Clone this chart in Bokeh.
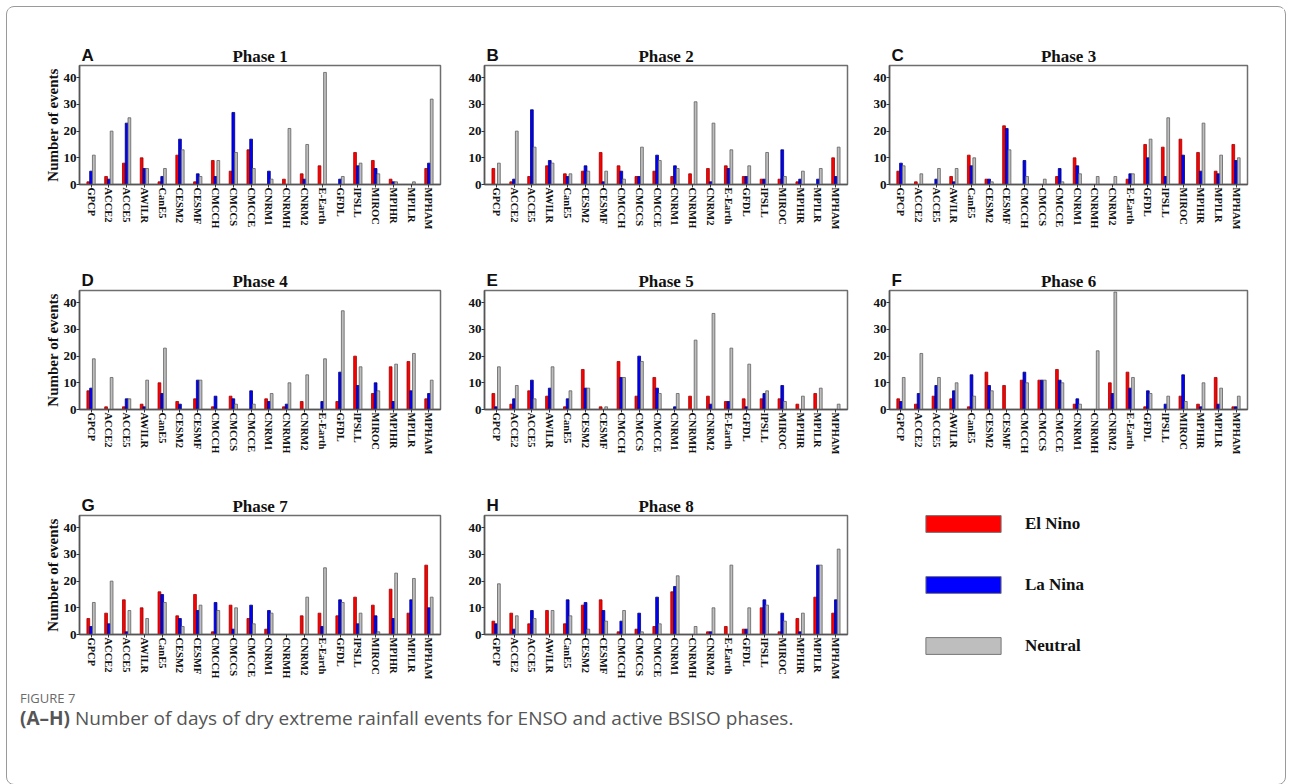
from bokeh.plotting import figure
from bokeh.layouts import row, column
from bokeh.models import Range1d, FixedTicker, Legend, LegendItem, Div, ColumnDataSource, Title
from bokeh.transform import dodge
from bokeh.embed import file_html
from bokeh.resources import INLINE

MODELS = ["GPCP", "ACCE2", "ACCE5", "AWILR", "CanE5", "CESM2", "CESMF", "CMCCH", "CMCCS", "CMCCE",
          "CNRM1", "CNRMH", "CNRM2", "E-Earth", "GFDL", "IPSLL", "MIROC", "MPIHR", "MPILR", "MPHAM"]

P1_EL = [1, 3, 8, 10, 1, 11, 1, 9, 5, 13, 0, 2, 4, 7, 0, 12, 9, 2, 0, 6]
P1_LA = [5, 2, 23, 6, 3, 17, 4, 3, 27, 17, 5, 0, 2, 0, 2, 7, 6, 1, 0, 8]
P1_NEU = [11, 20, 25, 6, 6, 13, 3, 9, 12, 6, 2, 21, 15, 42, 3, 8, 4, 1, 1, 32]

P2_EL = [6, 1, 3, 7, 4, 5, 12, 7, 3, 5, 3, 4, 6, 7, 3, 2, 2, 1, 0, 10]
P2_LA = [0, 2, 28, 9, 3, 7, 1, 5, 3, 11, 7, 0, 1, 6, 3, 2, 13, 2, 2, 3]
P2_NEU = [8, 20, 14, 8, 4, 5, 5, 2, 14, 9, 6, 31, 23, 13, 7, 12, 3, 5, 6, 14]

P3_EL = [5, 1, 0, 3, 11, 2, 22, 0, 0, 3, 10, 0, 0, 2, 15, 14, 17, 12, 5, 15]
P3_LA = [8, 0, 2, 1, 7, 2, 21, 9, 0, 6, 7, 0, 0, 4, 10, 3, 11, 5, 4, 9]
P3_NEU = [7, 4, 6, 6, 10, 1, 13, 3, 2, 1, 4, 3, 3, 4, 17, 25, 0, 23, 11, 10]

P4_EL = [7, 1, 1, 2, 10, 3, 4, 1, 5, 0, 4, 1, 3, 0, 3, 20, 6, 16, 18, 4]
P4_LA = [8, 0, 4, 1, 6, 2, 11, 5, 4, 7, 3, 2, 0, 3, 14, 9, 10, 3, 7, 6]
P4_NEU = [19, 12, 4, 11, 23, 0, 11, 0, 2, 2, 6, 10, 13, 19, 37, 16, 7, 17, 21, 11]

P5_EL = [6, 2, 7, 5, 1, 15, 1, 18, 5, 12, 0, 5, 5, 3, 4, 4, 4, 2, 6, 0]
P5_LA = [1, 4, 11, 8, 4, 8, 0, 12, 20, 8, 1, 0, 2, 3, 1, 6, 9, 0, 0, 0]
P5_NEU = [16, 9, 4, 16, 7, 8, 1, 12, 18, 6, 6, 26, 36, 23, 17, 7, 3, 5, 8, 2]

P6_EL = [4, 2, 5, 4, 1, 14, 9, 11, 11, 15, 2, 0, 10, 14, 1, 0, 5, 2, 12, 1]
P6_LA = [3, 6, 9, 7, 13, 9, 0, 14, 11, 11, 4, 0, 6, 8, 7, 2, 13, 1, 2, 1]
P6_NEU = [12, 21, 12, 10, 5, 7, 0, 10, 11, 10, 2, 22, 44, 12, 6, 5, 3, 10, 8, 5]

P7_EL = [6, 8, 13, 10, 16, 7, 15, 1, 11, 6, 2, 0, 7, 8, 7, 14, 11, 17, 8, 26]
P7_LA = [3, 4, 1, 0, 15, 6, 9, 12, 2, 11, 9, 0, 0, 3, 13, 4, 7, 6, 13, 10]
P7_NEU = [12, 20, 9, 6, 12, 3, 11, 9, 10, 4, 8, 0, 14, 25, 12, 8, 1, 23, 21, 14]

P8_EL = [5, 8, 4, 9, 4, 11, 13, 1, 2, 3, 16, 0, 1, 3, 2, 10, 1, 6, 14, 8]
P8_LA = [4, 2, 9, 0, 13, 12, 9, 5, 8, 14, 18, 0, 1, 0, 2, 13, 8, 1, 26, 13]
P8_NEU = [19, 7, 6, 9, 7, 2, 5, 9, 1, 4, 22, 3, 10, 26, 10, 11, 5, 8, 26, 32]

PHASES = [(P1_EL, P1_LA, P1_NEU), (P2_EL, P2_LA, P2_NEU), (P3_EL, P3_LA, P3_NEU),
          (P4_EL, P4_LA, P4_NEU), (P5_EL, P5_LA, P5_NEU), (P6_EL, P6_LA, P6_NEU),
          (P7_EL, P7_LA, P7_NEU), (P8_EL, P8_LA, P8_NEU)]
TITLES = ["Phase 1", "Phase 2", "Phase 3", "Phase 4", "Phase 5", "Phase 6", "Phase 7", "Phase 8"]
LETTERS = ["A", "B", "C", "D", "E", "F", "G", "H"]
SERIES = ["El Nino", "La Nina", "Neutral"]
Y_TICKS = [0, 10, 20, 30, 40]

FILL = ["#ff0000", "#0000ff", "#bebebe"]
LINE = ["#9a0000", "#00006e", "#5f5f5f"]
SERIF = "Liberation Serif"

# column geometry: (left border, frame width, right border)
COLS = [(71, 361, 22), (22, 363, 21), (21, 358, 37)]
TOP, FH, BOTTOM = 57, 119, 49
YMAX = 44.6
BW = 0.155


def make_panel(k):
    col = k % 3
    lb, fw, rb = COLS[col]
    el, la, neu = PHASES[k]
    src = ColumnDataSource(dict(x=list(range(len(MODELS))), el=el, la=la, neu=neu))
    p = figure(frame_width=fw, frame_height=FH, min_border_left=lb, min_border_right=rb,
               min_border_top=TOP, min_border_bottom=BOTTOM,
               x_range=Range1d(-0.65, len(MODELS) - 0.35), y_range=Range1d(0, YMAX),
               output_backend="svg", toolbar_location=None, background_fill_color="white",
               border_fill_color="white")
    for j, key in enumerate(["el", "la", "neu"]):
        p.vbar(x=dodge("x", (j - 1) * BW, range=p.x_range), top=key, width=BW, source=src,
               fill_color=FILL[j], line_color=LINE[j], line_width=0.8)
    p.title = None
    p.add_layout(Title(text=TITLES[k], align="center", text_font=SERIF, text_font_style="bold",
                       text_font_size="17px", standoff=0, text_color="#111111"), "above")
    p.add_layout(Title(text=LETTERS[k], align="left", offset=2, standoff=-40,
                       text_font="Liberation Sans", text_font_style="bold",
                       text_font_size="17px", text_color="#111111"), "above")
    p.xgrid.visible = False
    p.ygrid.visible = False
    p.outline_line_color = "#6e6e6e"
    p.outline_line_width = 1.5

    p.xaxis.ticker = FixedTicker(ticks=list(range(len(MODELS))))
    p.xaxis.major_label_overrides = {i: m for i, m in enumerate(MODELS)}
    p.xaxis.major_label_orientation = "vertical"
    p.xaxis.major_label_text_font = SERIF
    p.xaxis.major_label_text_font_style = "bold"
    p.xaxis.major_label_text_font_size = "10.5px"
    p.xaxis.major_label_text_color = "#111111"
    p.xaxis.major_label_standoff = 0
    p.xaxis.major_tick_in = 0
    p.xaxis.major_tick_out = 3
    p.xaxis.minor_tick_line_color = None

    p.yaxis.ticker = FixedTicker(ticks=Y_TICKS)
    p.yaxis.major_label_text_font = SERIF
    p.yaxis.major_label_text_font_style = "bold"
    p.yaxis.major_label_text_font_size = "13px"
    p.yaxis.major_label_text_color = "#111111"
    p.yaxis.major_label_standoff = 0
    p.yaxis.major_tick_in = 0
    p.yaxis.major_tick_out = 3
    p.yaxis.minor_tick_line_color = None
    for ax in (p.xaxis, p.yaxis):
        ax.axis_line_color = "#555555"
        ax.axis_line_width = 1.5
        ax.major_tick_line_color = "#333333"
    if col == 0:
        p.yaxis.axis_label = "Number of events"
        p.yaxis.axis_label_text_font = SERIF
        p.yaxis.axis_label_text_font_style = "bold"
        p.yaxis.axis_label_text_font_size = "15px"
        p.yaxis.axis_label_text_color = "#111111"
        p.yaxis.axis_label_standoff = 0
    return p


panels = [make_panel(k) for k in range(8)]

# legend panel: frame covers the whole cell
lb, fw, rb = COLS[2]
LEG_W = lb + fw + rb
LEG_H = TOP + FH + BOTTOM
leg = figure(frame_width=LEG_W, frame_height=LEG_H,
             min_border_left=0, min_border_top=0, min_border_right=0, min_border_bottom=0,
             x_range=Range1d(0, 1), y_range=Range1d(0, 1), output_backend="svg",
             toolbar_location=None, outline_line_color=None)
leg.title = None
leg.axis.visible = False
leg.grid.visible = False
items = []
for j, name in enumerate(SERIES):
    r = leg.vbar(x=[-5], top=[-5], width=0.1, fill_color=FILL[j], line_color="#777777", line_width=1)
    items.append(LegendItem(label=name, renderers=[r]))
legend = Legend(items=items, location=(48, 27), margin=0, padding=0, spacing=40,
                glyph_width=94, glyph_height=21, label_height=21, label_standoff=15,
                label_text_font=SERIF, label_text_font_style="bold", label_text_font_size="17px",
                label_text_color="#111111", border_line_color=None, background_fill_alpha=0)
leg.add_layout(legend)

row1 = row(panels[0], panels[1], panels[2], spacing=0)
row2 = row(panels[3], panels[4], panels[5], spacing=0)
row3 = row(panels[6], panels[7], leg, spacing=0)

caption = Div(text=('<div style="font-family:\'Open Sans\';color:#6a6a6a;font-size:13px;line-height:18px;">'
                    'FIGURE 7</div>'
                    '<div style="font-family:\'Open Sans\';color:#555555;font-size:19px;line-height:22px;">'
                    '<b>(A&#8211;H)</b> Number of days of dry extreme rainfall events for ENSO and active '
                    'BSISO phases.</div>'),
              width=1250, height=100, margin=(0, 0, 0, 0), styles={"padding-left": "12px", "padding-top": "6px"})

layout = column(row1, row2, row3, caption, spacing=0, margin=(8, 0, 0, 8),
                styles={"outline": "1px solid #9a9a9a", "outline-offset": "1px", "border-radius": "6px"})

open("out.html", "w").write(file_html(layout, INLINE))
